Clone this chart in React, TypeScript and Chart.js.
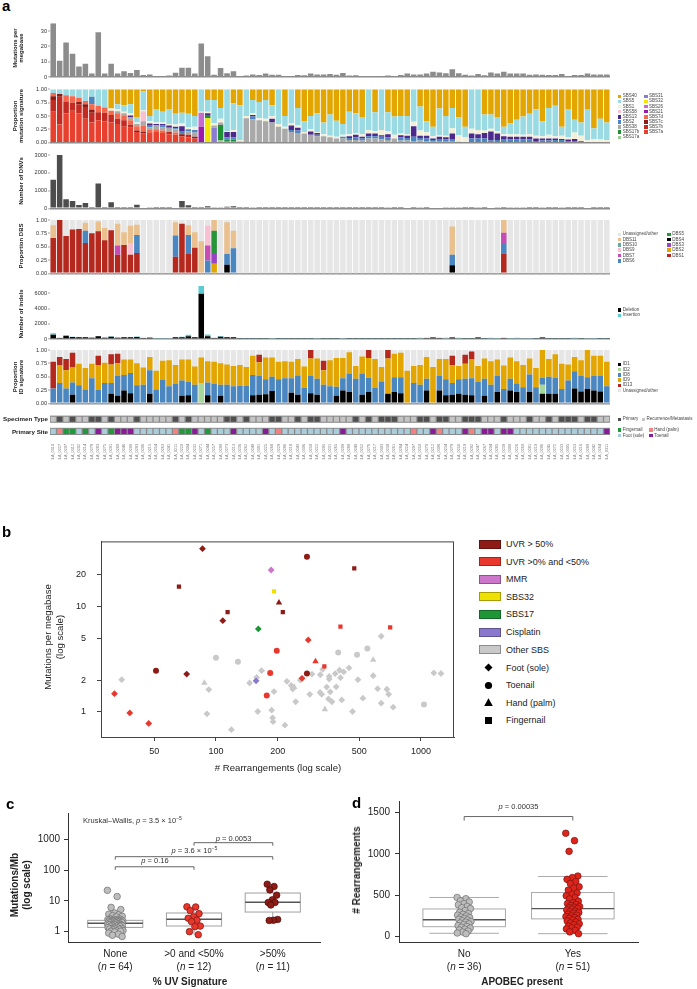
import React, { useEffect, useRef } from 'react';
import { Chart, registerables } from 'chart.js';

Chart.register(...registerables);

const FONT = '"Liberation Sans", Arial, Helvetica, sans-serif';
Chart.defaults.font.family = FONT;

// ======================= DATA =======================
const SAMPLE_IDS = [
  'MELA_0310','MELA_0227','MELA_0207','MELA_0312','MELA_0202','MELA_0214','MELA_0278','MELA_0283','MELA_0275','MELA_0291',
  'MELA_0280','MELA_0246','MELA_0290','MELA_0293','MELA_0206','MELA_0215','MELA_0254','MELA_0263','MELA_0241','MELA_0211',
  'MELA_0220','MELA_0304','MELA_0232','MELA_0271','MELA_0244','MELA_0257','MELA_0299','MELA_0273','MELA_0213','MELA_0236',
  'MELA_0262','MELA_0249','MELA_0301','MELA_0225','MELA_0268','MELA_0229','MELA_0286','MELA_0218','MELA_0243','MELA_0306',
  'MELA_0258','MELA_0222','MELA_0295','MELA_0231','MELA_0265','MELA_0209','MELA_0288','MELA_0240','MELA_0252','MELA_0276',
  'MELA_0217','MELA_0303','MELA_0238','MELA_0261','MELA_0284','MELA_0224','MELA_0297','MELA_0250','MELA_0270','MELA_0212',
  'MELA_0308','MELA_0234','MELA_0279','MELA_0256','MELA_0219','MELA_0292','MELA_0247','MELA_0267','MELA_0204','MELA_0285',
  'MELA_0239','MELA_0300','MELA_0226','MELA_0260','MELA_0281','MELA_0210','MELA_0296','MELA_0245','MELA_0272','MELA_0233',
  'MELA_0305','MELA_0253','MELA_0216','MELA_0289','MELA_0242','MELA_0264','MELA_0311',
];

const MUT_PER_MB = [
  35, 10.6, 22.5, 15.1, 6.9, 8.6, 2.2, 29.2, 2.2, 8.6,
  2.2, 3.7, 2.6, 4.5, 1.3, 1.7, 0.6, 0.6, 0.9, 2.8,
  6.0, 6.0, 2.2, 21.8, 13.6, 1.5, 5.8, 2.4, 3.7, 0.4,
  0.9, 1.7, 1.3, 2.2, 1.5, 1.5, 0.7, 0.7, 1.3, 1.1,
  2.2, 1.7, 1.7, 2.0, 1.5, 2.6, 0.9, 1.1, 0.6, 0.6,
  0.6, 0.4, 0.9, 0.6, 1.3, 2.2, 1.7, 1.7, 2.2, 3.5,
  3.0, 2.4, 5.0, 2.4, 1.5, 0.9, 2.0, 1.1, 3.0, 2.2,
  3.5, 2.2, 2.2, 2.2, 1.5, 1.7, 1.5, 1.3, 1.3, 2.0,
  0.4, 1.3, 1.3, 2.2, 1.7, 1.7, 1.7,
];

// SBS signature proportions (sparse lists are [sampleIndex, value])
const SBS7A_AT = [[0,.58],[1,.34],[2,.55],[3,.60],[4,.55],[5,.45],[6,.38],[7,.42],[8,.40],[9,.38],[10,.35],[11,.30],[12,.28],[13,.20],[14,.17],[15,.18],[16,.20],[17,.18],[18,.16],[19,.15],[20,.12],[21,.10],[22,.08]];
const SBS7B_AT = [[0,.22],[1,.52],[2,.22],[3,.15],[4,.17],[5,.22],[6,.18],[7,.15],[8,.16],[9,.14],[10,.10],[11,.12],[12,.06],[18,.04],[21,.05]];
const SBS7C_AT = [[0,.07],[1,.05],[4,.04],[5,.05],[6,.06],[13,.03],[14,.03],[20,.04],[22,.03]];
const SBS7D_AT = [[0,.06],[2,.12],[3,.12],[4,.08],[5,.06],[6,.10],[7,.12],[8,.10],[9,.08],[10,.10],[11,.08],[12,.08],[13,.08],[14,.12],[15,.06],[16,.05],[17,.05],[19,.04]];
const SBS21_AT = [[23,.30]];
const SBS26_AT = [[23,.26]];
const SBS32_AT = [[24,.46]];
const SBS31_AT = [[25,.28]];
const SBS17A_AT = [[26,.04],[27,.02],[28,.02]];
const SBS17B_AT = [[24,.06],[26,.29],[27,.04],[28,.04],[29,.02]];
const SBS58_AT = [[14,.19]];
const SBS38 = [
  0,0,0,0,0,0,0,0,0,0,
  .04,.05,.06,.04,.08,.05,.08,.06,.08,.06,
  0,.06,.08,0,0,.04,.05,0,0,0,
  .46,.44,.42,.40,.38,.30,.26,.20,.18,.17,
  .15,.12,.12,.10,.08,.08,.05,.05,.04,.08,
  .08,.06,.05,.08,.04,.04,.03,.04,.03,.02,
  .02,.02,.02,.02,0,0,0,0,0,0,
  0,0,0,0,0,0,0,0,0,0,
  0,0,0,0,0,0,0,
];
const SBS2 = [
  0,0,0,0,0,0,.14,0,0,0,
  0,0,0,0,0,.04,0,.03,0,.02,
  .06,.04,.05,0,0,0,0,.04,.04,0,
  0,.05,0,0,0,0,0,.04,.05,0,
  0,.03,0,0,0,.03,.04,.05,.04,.04,
  .04,.05,.05,0,.06,.05,.08,.05,.05,.03,
  .05,.04,.05,0,0,.08,.08,.08,.04,.05,
  .07,.06,.06,.06,.06,.02,.04,.04,.05,.05,
  .03,.03,.03,0,0,0,0,
];
const SBS13 = [
  0,0,0,0,0,0,0,0,0,0,
  0,0,.03,0,0,.03,.02,.03,.04,.03,
  .09,0,0,0,.03,0,0,.10,.10,0,
  0,.03,0,0,.07,0,0,.08,.05,0,
  .06,.03,0,0,0,0,.03,.05,.03,.05,
  .05,.03,.06,0,.04,.04,.20,.04,.05,.03,
  .04,.04,.10,0,0,.09,.08,.10,.17,.12,
  .05,.05,.05,.05,.05,.06,.04,.04,.03,.02,
  .03,.04,0,0,0,0,0,
];
const SBS1 = [
  0,0,0,0,0,0,0,0,0,.04,
  .03,.03,.04,.03,.02,.04,.03,.03,.03,.04,
  .05,.04,.06,.02,.03,.05,.07,.02,.04,.03,
  .04,.03,.04,.05,.05,.05,.04,.04,.04,.03,
  .04,.02,.04,.03,.03,.04,.04,.03,.05,.07,
  .05,.10,.06,.07,.03,.03,.08,.10,.07,.04,
  .03,.03,.10,.12,.10,.09,.08,.05,.05,.05,
  .04,.05,.05,.04,.05,.05,.04,.07,.04,.06,
  .04,.12,.10,.05,.07,.07,.05,
];
const SBS5 = [
  .07,.09,.11,.13,.16,.22,.14,.31,.34,0,
  .10,.12,.17,.10,.35,.10,.25,.20,.28,.20,
  .20,.25,.20,.42,.22,.43,.20,.78,.50,.65,
  .50,.25,.30,.35,.20,.65,.20,.64,.33,.20,
  .25,.35,.22,.40,.30,.20,.42,.37,.32,.76,
  .35,.76,.35,.34,.33,.34,.61,.45,.20,.18,
  .50,.37,.38,.33,.20,.74,.76,.30,.27,.26,
  .14,.20,.27,.34,.38,.49,.28,.50,.57,.17,
  .53,.24,.25,.58,.20,.38,.33,
];
const SBS40 = [
  0,0,0,0,0,0,0,0,0,.36,
  .28,.30,.28,.52,.04,.50,.37,.42,.37,.46,
  .44,.46,.50,0,.20,.20,.35,0,.26,.30,
  0,.20,.24,.20,.30,0,.50,0,.35,.60,
  .50,.45,.62,.47,.59,.65,.42,.45,.52,0,
  .43,0,.43,.51,.50,.50,0,.32,.60,.70,
  .36,.50,.35,.53,.70,0,0,.47,.47,.52,
  .70,.64,.57,.51,.46,.38,.60,.35,.31,.70,
  .37,.57,.62,.37,.73,.55,.62,
];

const DNV_COUNT = [
  1600, 3000, 506, 410, 190, 300, 75, 1390, 75, 340,
  75, 75, 75, 200, 40, 30, 15, 15, 15, 50,
  410, 170, 75, 75, 110, 60, 60, 90, 120, 20,
  15, 25, 20, 15, 20, 10, 10, 15, 20, 10,
  20, 15, 15, 20, 15, 20, 10, 15, 10, 10,
  10, 10, 30, 15, 20, 40, 20, 25, 20, 40,
  40, 25, 60, 25, 15, 10, 30, 20, 40, 30,
  70, 30, 25, 25, 20, 20, 25, 15, 15, 25,
  10, 20, 15, 40, 20, 20, 20,
];

// DBS signature proportions (sparse [sampleIndex, value])
const DBS1_AT = [[0,.66],[1,1.0],[2,.70],[3,.82],[4,.83],[5,.57],[6,.75],[7,.79],[8,.62],[9,.81],[10,.35],[11,.53],[12,.35],[13,.38],[19,.31],[20,.93],[21,.36],[22,.48],[70,.37]];
const DBS2_AT = [[25,.18]];
const DBS3_AT = [[25,.18]];
const DBS4_AT = [[27,.16],[62,.15]];
const DBS5_AT = [[25,.44]];
const DBS6_AT = [[5,.23],[13,.34],[19,.40],[21,.36],[24,.24],[27,.20],[28,.47],[62,.20],[70,.18]];
const DBS7_AT = [[10,.17],[24,.28],[70,.21]];
const DBS9_AT = [[12,.22],[24,.37]];
const DBS10_AT: number[][] = [];
const DBS11_AT = [[0,.24],[5,.15],[7,.18],[8,.23],[10,.41],[11,.24],[12,.32],[13,.19],[19,.25],[21,.18],[22,.29],[23,.60],[25,.20],[27,.60],[28,.33],[62,.53],[70,.24]];

const INDEL_DELETION = [
  570, 130, 395, 260, 220, 220, 175, 350, 175, 300,
  175, 220, 220, 260, 130, 175, 90, 90, 90, 220,
  220, 350, 220, 5950, 350, 130, 300, 220, 220, 60,
  60, 60, 60, 60, 90, 60, 60, 60, 60, 60,
  60, 90, 60, 60, 60, 90, 60, 60, 60, 50,
  50, 50, 60, 60, 60, 60, 60, 100, 130, 200,
  130, 100, 200, 100, 60, 60, 200, 60, 100, 90,
  130, 90, 100, 90, 90, 60, 200, 60, 60, 60,
  60, 100, 60, 90, 90, 60, 60,
];
const INDEL_INSERTION = [
  175, 45, 130, 40, 40, 30, 30, 60, 30, 60,
  30, 40, 40, 60, 30, 40, 30, 30, 30, 30,
  60, 200, 40, 1050, 250, 40, 90, 40, 40, 40,
  40, 40, 40, 40, 50, 40, 40, 40, 40, 40,
  40, 50, 40, 40, 40, 50, 40, 40, 40, 40,
  40, 40, 40, 40, 40, 40, 40, 50, 50, 60,
  50, 50, 60, 50, 40, 40, 60, 40, 50, 50,
  50, 50, 50, 50, 50, 40, 60, 40, 40, 40,
  40, 50, 40, 50, 50, 40, 40,
];

const ID1 = [
  0,0,0,.16,0,0,0,0,0,.18,
  .14,.24,.19,0,0,.18,0,0,0,0,
  .14,.15,0,0,.15,0,.14,0,0,0,
  0,.15,.16,.17,.23,0,0,.20,.16,0,
  .19,.16,0,0,.14,.24,.21,0,.16,.21,
  0,0,.18,.21,.19,0,0,0,.24,0,
  .24,.15,.16,.18,.16,.15,0,.14,0,.21,
  0,.24,.21,0,.21,0,.18,.18,.18,0,
  0,.28,.22,.27,.24,.22,0,
];
const ID2_AT = [[23,.38],[76,.17]];
const ID8 = [
  .28,.38,.28,.23,.34,.26,.47,.25,.38,.20,
  .37,.29,.38,.34,.35,.44,.26,.44,.32,.36,
  .29,.25,.35,0,.24,.36,.21,.35,.32,.33,
  .33,.38,.35,.28,.27,.45,.47,.27,.36,.29,
  .32,.30,.35,.32,.17,.23,.35,.46,.40,.27,
  .29,.41,0,.28,.30,0,.38,.35,.22,0,
  .27,.30,.22,.27,.30,.32,.40,.32,.35,.30,
  .27,.22,.16,.30,.33,.30,.13,.32,.30,.27,
  .43,.32,.29,.22,.27,.29,.32,
];
const ID9 = [
  0,.33,.34,.28,.40,.40,.27,.47,.38,.35,
  .24,.29,.25,.41,.32,.25,.35,.36,.49,.36,
  .39,.42,.34,.48,.40,.42,.40,.38,.38,.39,
  .35,.36,.26,.41,.36,.33,.32,.31,.31,.40,
  .33,.38,.27,.49,.54,.38,.40,.24,.32,.37,
  .54,.27,.66,.44,.46,.61,.32,.37,.41,.68,
  .32,.38,.34,.25,.28,.35,.30,.38,.44,.31,
  .44,.40,.42,.42,.30,.36,.52,.33,.44,.47,
  .30,.27,.30,.51,.38,.38,.46,
];
const ID13_AT = [[0,.50],[1,.16],[2,.21],[3,.28],[7,.17],[9,.19],[10,.18],[32,.14],[40,.16],[42,.18],[49,.17],[52,.16],[62,.17],[64,.17],[65,.15]];

// P = Primary, R = Recurrence/Metastasis
const SPECIMEN_TYPE = ('RPRPRRPPRP' + 'RRRPRRRRRP' + 'RPRRRRRPPR' + 'PRRRPPRRPR' + 'PPRRRRRPRP' +
  'RPPPRRRPPR' + 'PPRRPPPRRR' + 'PRRRPRRPRP' + 'PPRPPRRRR').split('');
// F = Foot (sole), N = Fingernail, H = Hand (palm), T = Toenail
const PRIMARY_SITE = ('FHNNFNFTFN' + 'TTTFFFFFFH' + 'NNTFNFFFTF' + 'FFFTFHFFFF' + 'FFFFFTFFFF' +
  'FFFFFFHFFT' + 'HFFFTHFTTF' + 'TTFFFFFFFF' + 'FFFFFFT').split('');

// Panel b: [rearrangements, mutations per Mb, site]
const B_UVR_HIGH = [[86,35,'F'],[278,29.4,'T'],[473,22.8,'N'],[66,15.3,'N'],[203,10.8,'H'],[114,8.8,'N'],[212,8.8,'N'],[108,7.3,'F'],[51,2.46,'T'],[72,2.28,'F'],[278,2.31,'T']];
const B_UVR_LOW = [[405,6.4,'N'],[708,6.3,'N'],[282,4.8,'F'],[198,3.8,'T'],[306,3.0,'H'],[338,2.7,'N'],[184,2.33,'T'],[263,2.08,'F'],[32,1.49,'F'],[177,1.43,'T'],[38,0.98,'F'],[47,0.78,'F']];
const B_MMR = [[186,22,'F']];
const B_SBS32 = [[192,13.8,'N']];
const B_SBS17 = [[161,6.1,'F']];
const B_CISPLATIN = [[157,1.97,'F']];
const B_OTHER = [
  [34.7,2.02,'F'],[87.8,1.88,'H'],[92.3,1.63,'F'],[90.4,0.96,'F'],[100,3.26,'T'],[128,2.98,'T'],[119,0.68,'F'],[146,1.88,'F'],[158,2.12,'F'],[167,2.46,'F'],
  [160,1.01,'F'],[187,1.04,'F'],[189,0.88,'F'],[190,0.81,'F'],[192,1.56,'F'],[217,0.75,'F'],[222,1.95,'F'],[233,1.78,'F'],[237,1.65,'F'],[241,1.72,'H'],
  [245,1.25,'F'],[258,2.0,'F'],[287,1.47,'F'],[294,2.28,'F'],[322,1.53,'F'],[328,1.47,'F'],[323,2.25,'F'],[332,2.53,'F'],[340,1.06,'H'],[347,1.72,'F'],
  [354,1.33,'F'],[357,2.17,'F'],[357,2.05,'F'],[361,1.55,'F'],[368,1.25,'F'],[382,2.30,'F'],[386,1.73,'F'],[395,3.65,'T'],[401,2.48,'F'],[405,2.11,'F'],
  [411,1.30,'F'],[420,2.39,'F'],[446,2.61,'F'],[464,1.01,'F'],[488,3.48,'T'],[493,2.02,'F'],[521,1.35,'F'],[548,3.98,'T'],[585,3.10,'H'],[585,2.20,'F'],
  [615,1.66,'F'],[640,5.20,'F'],[640,1.21,'F'],[682,1.64,'F'],[696,1.47,'F'],[732,1.11,'F'],[1035,1.18,'T'],[1156,2.34,'F'],[1253,2.31,'F'],
];
const B_XTICKS = [50, 100, 200, 500, 1000];
const B_YTICKS = [1, 2, 5, 10, 20];

// Panel c: mutations per Mb by % UV signature
const C_CATEGORIES = ['None', '>0 and <50%', '>50%'];
const C_COUNTS = [64, 12, 11];
const C_NONE = [22, 13.8, 6.1, 5.2, 4.0, 3.65, 3.48, 3.26, 3.1, 2.98, 2.61, 2.53, 2.48, 2.46, 2.39, 2.34, 2.31, 2.3, 2.28, 2.25,
  2.2, 2.17, 2.12, 2.11, 2.05, 2.02, 2.02, 2.0, 1.97, 1.95, 1.88, 1.88, 1.78, 1.73, 1.72, 1.72, 1.66, 1.65, 1.64, 1.63,
  1.56, 1.55, 1.53, 1.47, 1.47, 1.47, 1.35, 1.33, 1.3, 1.25, 1.25, 1.21, 1.2, 1.18, 1.11, 1.06, 1.04, 1.01, 1.01, 0.96,
  0.88, 0.81, 0.75, 0.68];
const C_UV_LOW = [6.4, 6.3, 4.8, 3.8, 3.0, 2.7, 2.33, 2.08, 1.49, 1.43, 0.98, 0.78];
const C_UV_HIGH = [35, 29.4, 22.8, 15.3, 10.8, 8.8, 8.8, 7.3, 2.46, 2.31, 2.28];
const C_Q1 = [1.35, 1.5, 4.3];
const C_MEDIAN = [1.85, 2.5, 9];
const C_Q3 = [2.3, 4.0, 18];
const C_LOW = [0.68, 0.78, 2.28];
const C_HIGH = [3.7, 6.4, 35];
const C_YTICKS = [1, 10, 100, 1000];

// Panel d: rearrangements by APOBEC presence
const D_CATEGORIES = ['No', 'Yes'];
const D_COUNTS = [36, 51];
const D_NO = [470, 455, 430, 415, 395, 380, 360, 345, 335, 310, 290, 275, 265, 255, 245, 232, 225, 215, 205, 196,
  188, 178, 170, 160, 150, 140, 128, 118, 108, 98, 85, 75, 62, 50, 38, 30];
const D_YES = [1250, 1160, 1030, 730, 712, 690, 665, 640, 600, 585, 560, 525, 505, 490, 470, 452, 425, 405, 395, 385,
  372, 360, 352, 345, 336, 328, 318, 305, 296, 288, 278, 268, 255, 246, 238, 226, 218, 205, 196, 185,
  172, 160, 150, 138, 122, 110, 100, 88, 70, 52, 30];
const D_Q1 = [115, 210];
const D_MEDIAN = [200, 335];
const D_Q3 = [330, 530];
const D_LOW = [35, 30];
const D_HIGH = [470, 725];
const D_YTICKS = [0, 500, 1000, 1500];

// ======================= STYLES =======================
const W = 697;
const A_L = 50;
const A_R = 610;
const N = SAMPLE_IDS.length;

const SIG_COLORS: Record<string, string> = {
  SBS40: '#E3A600', SBS5: '#9ADBE3', SBS1: '#F3EFD8', SBS58: '#F8C1D2', SBS13: '#4B2A8C', SBS2: '#4A86C0',
  SBS38: '#A9A9A9', SBS17b: '#1E8F33', SBS17a: '#9FCC8F', SBS31: '#8B7CD3', SBS32: '#F2E500', SBS26: '#C56ACF',
  SBS21: '#9C1BAA', SBS7d: '#F4694D', SBS7c: '#8C1B19', SBS7b: '#C22B22', SBS7a: '#E8402E',
};
const DBS_COLORS: Record<string, string> = {
  'Unassigned/other': '#E6E6E6', DBS11: '#E9C08E', DBS10: '#69A89E', DBS9: '#F8C1D2', DBS7: '#C74DB5', DBS6: '#4A86C0',
  DBS5: '#27963A', DBS4: '#000000', DBS3: '#9B42C6', DBS2: '#E3A600', DBS1: '#B5281E',
};
const ID_COLORS: Record<string, string> = {
  ID1: '#000000', ID2: '#A8D79A', ID8: '#4A86C0', ID9: '#E3A600', ID13: '#B5281E', 'Unassigned/other': '#E6E6E6',
};
const SPEC_COLORS: Record<string, string> = { P: '#4F4F4F', R: '#C4C4C4' };
const SITE_COLORS: Record<string, string> = { N: '#1E9A3A', F: '#A9CDDB', H: '#F48080', T: '#8B1A9B' };
const B_COLORS = {
  high: '#8E1B16', low: '#E8372C', mmr: '#CC77CC', sbs32: '#EEE000', sbs17: '#1E9638', cis: '#8A78CF', other: '#C9C9C9',
};
const SHAPE: Record<string, string> = { F: 'rectRot', T: 'circle', H: 'triangle', N: 'rect' };
const RADIUS: Record<string, number> = { F: 3.4, T: 3.0, H: 3.7, N: 3.0 };

// ======================= HELPERS =======================
const expand = (pairs: number[][]) => {
  const a = new Array(N).fill(0);
  pairs.forEach(([i, v]) => { a[i] = v; });
  return a;
};
const jitter = (i: number, spread: number) => (((i * 0.6180339887) % 1) - 0.5) * 2 * spread;

const common = {
  animation: false,
  responsive: false,
  maintainAspectRatio: false,
  devicePixelRatio: 1,
  events: [],
};
const noPlugins = { legend: { display: false }, tooltip: { enabled: false }, title: { display: false } };

function ChartBox({ x, y, w, h, cfg }: { x: number; y: number; w: number; h: number; cfg: () => any }) {
  const ref = useRef<HTMLCanvasElement | null>(null);
  useEffect(() => {
    if (!ref.current) return;
    const chart = new Chart(ref.current, cfg());
    return () => chart.destroy();
  }, []);
  return <canvas ref={ref} width={w} height={h} style={{ position: 'absolute', left: x, top: y, width: w, height: h }} />;
}

function Txt(props: { x: number; y: number; size: number; bold?: boolean; italic?: boolean; anchor?: 'l' | 'c' | 'r'; rot?: boolean; color?: string; children: React.ReactNode }) {
  const { x, y, size, bold, italic, anchor = 'c', rot, color = '#222', children } = props;
  const tx = anchor === 'l' ? '0%' : anchor === 'r' ? '-100%' : '-50%';
  return (
    <div style={{
      position: 'absolute', left: x, top: y, transform: `translate(${tx},-50%)${rot ? ' rotate(-90deg)' : ''}`,
      fontSize: size, fontWeight: bold ? 700 : 400, fontStyle: italic ? 'italic' : 'normal', color,
      whiteSpace: 'nowrap', lineHeight: 1, fontFamily: FONT,
    }}>{children}</div>
  );
}

function Sw({ x, y, w, h, color, border }: { x: number; y: number; w: number; h: number; color: string; border?: string }) {
  return <div style={{ position: 'absolute', left: x, top: y - h / 2, width: w, height: h, background: color, boxSizing: 'border-box', border: border ? `1px solid ${border}` : undefined }} />;
}

const Sup = ({ children }: { children: React.ReactNode }) => (
  <sup style={{ fontSize: '0.68em', verticalAlign: 'super', lineHeight: 0 }}>{children}</sup>
);

// plugins
const colBgPlugin = (color: string) => ({
  id: 'colbg',
  beforeDatasetsDraw(chart: any) {
    const { ctx, scales: { x, y } } = chart;
    const w = (x.getPixelForValue(1) - x.getPixelForValue(0)) * 0.86;
    const yt = y.getPixelForValue(1);
    const yb = y.getPixelForValue(0);
    ctx.save();
    ctx.fillStyle = color;
    for (let i = 0; i < N; i++) {
      const xc = x.getPixelForValue(i);
      ctx.fillRect(xc - w / 2, yt, w, yb - yt);
    }
    ctx.restore();
  },
});
const areaFillPlugin = (color: string) => ({
  id: 'areafill',
  beforeDatasetsDraw(chart: any) {
    const { ctx, chartArea: a } = chart;
    ctx.save();
    ctx.fillStyle = color;
    ctx.fillRect(a.left, a.top, a.right - a.left, a.bottom - a.top);
    ctx.restore();
  },
});
const boxFramePlugin = {
  id: 'boxframe',
  afterDraw(chart: any) {
    const { ctx, chartArea: a } = chart;
    ctx.save();
    ctx.strokeStyle = '#444';
    ctx.lineWidth = 1;
    ctx.strokeRect(a.left + 0.5, a.top + 0.5, a.right - a.left - 1, a.bottom - a.top);
    ctx.restore();
  },
};
const boxPlotPlugin = (q1: number[], med: number[], q3: number[], lo: number[], hi: number[], halfW: number, capW: number, stroke: string) => ({
  id: 'boxplot',
  beforeDatasetsDraw(chart: any) {
    const { ctx, scales: { x, y } } = chart;
    ctx.save();
    for (let i = 0; i < q1.length; i++) {
      const xc = x.getPixelForValue(i);
      const xl = x.getPixelForValue(i - halfW);
      const xr = x.getPixelForValue(i + halfW);
      const y1 = y.getPixelForValue(q1[i]);
      const y3 = y.getPixelForValue(q3[i]);
      const ym = y.getPixelForValue(med[i]);
      const yl = y.getPixelForValue(lo[i]);
      const yh = y.getPixelForValue(hi[i]);
      ctx.strokeStyle = stroke;
      ctx.lineWidth = 1;
      ctx.beginPath();
      ctx.moveTo(xc, y3); ctx.lineTo(xc, yh);
      ctx.moveTo(xc, y1); ctx.lineTo(xc, yl);
      if (capW > 0) {
        const cl = x.getPixelForValue(i - capW);
        const cr = x.getPixelForValue(i + capW);
        ctx.moveTo(cl, yh); ctx.lineTo(cr, yh);
        ctx.moveTo(cl, yl); ctx.lineTo(cr, yl);
      }
      ctx.stroke();
      ctx.fillStyle = '#ffffff';
      ctx.fillRect(xl, y3, xr - xl, y1 - y3);
      ctx.strokeRect(xl, y3, xr - xl, y1 - y3);
      ctx.strokeStyle = '#555';
      ctx.lineWidth = 1.4;
      ctx.beginPath();
      ctx.moveTo(xl, ym); ctx.lineTo(xr, ym);
      ctx.stroke();
    }
    ctx.restore();
  },
});
const bracketPlugin = (brs: { a: number; b: number; v: number }[], drop: number) => ({
  id: 'brackets',
  afterDatasetsDraw(chart: any) {
    const { ctx, scales: { x, y } } = chart;
    ctx.save();
    ctx.strokeStyle = '#555';
    ctx.lineWidth = 0.9;
    brs.forEach((br) => {
      const yp = y.getPixelForValue(br.v);
      const xa = x.getPixelForValue(br.a);
      const xb = x.getPixelForValue(br.b);
      ctx.beginPath();
      ctx.moveTo(xa, yp + drop); ctx.lineTo(xa, yp); ctx.lineTo(xb, yp); ctx.lineTo(xb, yp + drop);
      ctx.stroke();
    });
    ctx.restore();
  },
});

// ---------- panel a builder ----------
type AOpts = { colBg?: string; xLabels?: boolean; rowFrame?: string; stacked?: boolean };
function aYScale(min: number, max: number, ticks: number[], fmt: (v: number) => string, stacked: boolean) {
  return {
    type: 'linear', min, max, stacked, z: 1,
    afterFit: (s: any) => { s.width = A_L; },
    afterBuildTicks: (s: any) => { s.ticks = ticks.map((v) => ({ value: v })); },
    ticks: { font: { size: 5.6, family: FONT }, color: '#333', padding: 1, callback: (v: any) => fmt(Number(v)) },
    grid: {
      color: (c: any) => (c.tick && c.tick.value === 0 ? '#8c8c8c' : 'rgba(0,0,0,0)'),
      lineWidth: (c: any) => (c.tick && c.tick.value === 0 ? 1.6 : 0),
      drawTicks: true, tickLength: 2, tickColor: '#666', tickWidth: 0.6,
    },
    border: { display: false },
  };
}
function panelA(areaTop: number, areaBottom: number, datasets: () => any[], yScale: any, opts: AOpts = {}) {
  const top = Math.floor(areaTop) - 6;
  const labelH = opts.xLabels ? 25 : 0;
  const h = Math.ceil(areaBottom) + (opts.xLabels ? labelH + 1 : 6) - top;
  const padTop = areaTop - top;
  const padBottom = top + h - areaBottom - labelH;
  const yHidden = yScale.display === false;
  const plugins: any[] = [];
  if (opts.colBg) plugins.push(colBgPlugin(opts.colBg));
  if (opts.rowFrame) plugins.push(areaFillPlugin(opts.rowFrame));
  const cfg = () => ({
    type: 'bar',
    data: { labels: SAMPLE_IDS, datasets: datasets() },
    options: {
      ...common,
      layout: { padding: { left: yHidden ? A_L : 0, right: W - A_R, top: padTop, bottom: padBottom } },
      plugins: noPlugins,
      scales: {
        x: {
          type: 'category', stacked: !!opts.stacked, offset: true, display: !!opts.xLabels,
          grid: { display: false }, border: { display: false },
          ticks: { autoSkip: false, minRotation: 90, maxRotation: 90, font: { size: 3.8, family: FONT }, color: '#7a7a7a', padding: 1 },
          afterFit: (s: any) => { s.height = labelH; },
        },
        y: yScale,
      },
    },
    plugins,
  });
  return { top, h, cfg };
}
const bar = (label: string, data: number[], color: string, pct = 0.86) => ({
  label, data, backgroundColor: color, borderWidth: 0, barPercentage: pct, categoryPercentage: 1,
});

const SIG_STACK: [string, () => number[]][] = [
  ['SBS7a', () => expand(SBS7A_AT)], ['SBS7b', () => expand(SBS7B_AT)], ['SBS7c', () => expand(SBS7C_AT)], ['SBS7d', () => expand(SBS7D_AT)],
  ['SBS21', () => expand(SBS21_AT)], ['SBS26', () => expand(SBS26_AT)], ['SBS32', () => expand(SBS32_AT)], ['SBS31', () => expand(SBS31_AT)],
  ['SBS17a', () => expand(SBS17A_AT)], ['SBS17b', () => expand(SBS17B_AT)], ['SBS38', () => SBS38.slice()], ['SBS2', () => SBS2.slice()],
  ['SBS13', () => SBS13.slice()], ['SBS58', () => expand(SBS58_AT)], ['SBS1', () => SBS1.slice()], ['SBS5', () => SBS5.slice()], ['SBS40', () => SBS40.slice()],
];
const DBS_STACK: [string, number[][]][] = [
  ['DBS1', DBS1_AT], ['DBS2', DBS2_AT], ['DBS3', DBS3_AT], ['DBS4', DBS4_AT], ['DBS5', DBS5_AT], ['DBS6', DBS6_AT],
  ['DBS7', DBS7_AT], ['DBS9', DBS9_AT], ['DBS10', DBS10_AT], ['DBS11', DBS11_AT],
];

const fmtInt = (v: number) => String(v);
const fmt2 = (v: number) => v.toFixed(2);
const P01 = [0, 0.25, 0.5, 0.75, 1];

const A_MUT = panelA(23.3, 77, () => [bar('Mutations per megabase', MUT_PER_MB.slice(), '#8C8C8C')], aYScale(0, 35, [0, 10, 20, 30], fmtInt, false));
const A_SIG = panelA(89.3, 142.7, () => SIG_STACK.map(([k, f]) => bar(k, f(), SIG_COLORS[k])), aYScale(0, 1, P01, fmt2, true), { stacked: true });
const A_DNV = panelA(155, 208.3, () => [bar('DNVs', DNV_COUNT.slice(), '#4D4D4D')], aYScale(0, 3000, [0, 1000, 2000, 3000], fmtInt, false));
const A_DBS = panelA(220, 273.3, () => DBS_STACK.map(([k, p]) => bar(k, expand(p), DBS_COLORS[k])), aYScale(0, 1, P01, fmt2, true), { stacked: true, colBg: DBS_COLORS['Unassigned/other'] });
const A_IND = panelA(285.7, 339, () => [bar('Deletion', INDEL_DELETION.slice(), '#000000'), bar('Insertion', INDEL_INSERTION.slice(), '#5CCBD3')], aYScale(0, 7000, [0, 2000, 4000, 6000], fmtInt, true), { stacked: true });
const A_ID = panelA(350, 403.3, () => [
  bar('ID1', ID1.slice(), ID_COLORS.ID1), bar('ID2', expand(ID2_AT), ID_COLORS.ID2), bar('ID8', ID8.slice(), ID_COLORS.ID8),
  bar('ID9', ID9.slice(), ID_COLORS.ID9), bar('ID13', expand(ID13_AT), ID_COLORS.ID13),
], aYScale(0, 1, P01, fmt2, true), { stacked: true, colBg: ID_COLORS['Unassigned/other'] });
const rowY = { display: false, min: -0.2, max: 1.2 };
const A_SPEC = panelA(415.6, 422.8, () => [{
  label: 'Specimen Type', data: SPECIMEN_TYPE.map(() => 1), backgroundColor: SPECIMEN_TYPE.map((s) => SPEC_COLORS[s]),
  borderWidth: 0, barPercentage: 0.8, categoryPercentage: 1,
}], rowY, { rowFrame: '#8A8A8A' });
const A_SITE = panelA(427.8, 435, () => [{
  label: 'Primary Site', data: PRIMARY_SITE.map(() => 1), backgroundColor: PRIMARY_SITE.map((s) => SITE_COLORS[s]),
  borderWidth: 0, barPercentage: 0.8, categoryPercentage: 1,
}], rowY, { rowFrame: '#8A8A8A', xLabels: true });

// ---------- panel b ----------
const bSet = (label: string, pts: any[], color: string) => ({
  label,
  data: pts.map((p) => ({ x: p[0], y: p[1] })),
  backgroundColor: color, borderColor: color, borderWidth: 0,
  pointStyle: pts.map((p) => SHAPE[p[2]]),
  pointRadius: pts.map((p) => RADIUS[p[2]]),
});
const B_CFG = () => ({
  type: 'scatter',
  data: {
    datasets: [
      bSet('MMR', B_MMR, B_COLORS.mmr), bSet('SBS32', B_SBS32, B_COLORS.sbs32), bSet('SBS17', B_SBS17, B_COLORS.sbs17),
      bSet('Cisplatin', B_CISPLATIN, B_COLORS.cis), bSet('UVR > 50%', B_UVR_HIGH, B_COLORS.high),
      bSet('UVR >0% and <50%', B_UVR_LOW, B_COLORS.low), bSet('Other SBS', B_OTHER, B_COLORS.other),
    ],
  },
  options: {
    ...common,
    layout: { padding: { left: 0, right: 16, top: 11, bottom: 0 } },
    plugins: noPlugins,
    scales: {
      x: {
        type: 'logarithmic', min: 27.5, max: 1450,
        afterBuildTicks: (s: any) => { s.ticks = B_XTICKS.map((v) => ({ value: v })); },
        afterFit: (s: any) => { s.height = 43; },
        ticks: { autoSkip: false, maxRotation: 0, font: { size: 9 }, color: '#222', padding: 5, callback: (v: any) => String(v) },
        grid: { drawOnChartArea: false, drawTicks: true, tickLength: 4, color: '#444' },
        border: { display: true, color: '#444', width: 1 },
      },
      y: {
        type: 'logarithmic', min: 0.58, max: 41,
        afterBuildTicks: (s: any) => { s.ticks = B_YTICKS.map((v) => ({ value: v })); },
        afterFit: (s: any) => { s.width = 101; },
        ticks: { font: { size: 9 }, color: '#222', padding: 11, callback: (v: any) => String(v) },
        grid: { drawOnChartArea: false, drawTicks: true, tickLength: 4, color: '#444' },
        border: { display: true, color: '#444', width: 1 },
      },
    },
  },
  plugins: [boxFramePlugin],
});

// ---------- panel c ----------
const C_CFG = () => ({
  type: 'scatter',
  data: {
    datasets: [
      { label: '>50%', data: C_UV_HIGH.map((v, i) => ({ x: 2 + jitter(i, 0.07), y: v })), backgroundColor: '#8E1B16', borderColor: '#4A0B08', borderWidth: 0.7, pointRadius: 3.3 },
      { label: '>0 and <50%', data: C_UV_LOW.map((v, i) => ({ x: 1 + jitter(i, 0.09), y: v })), backgroundColor: '#E8372C', borderColor: '#7A1610', borderWidth: 0.7, pointRadius: 3.3 },
      { label: 'None', data: C_NONE.map((v, i) => ({ x: 0 + jitter(i, 0.1), y: v })), backgroundColor: '#BDBDBD', borderColor: '#6E6E6E', borderWidth: 0.7, pointRadius: 3.3 },
    ],
  },
  options: {
    ...common,
    layout: { padding: { left: 0, right: 20, top: 18, bottom: 0 } },
    plugins: noPlugins,
    scales: {
      x: {
        type: 'linear', min: -0.6, max: 2.6, ticks: { display: false }, grid: { display: false },
        border: { display: true, color: '#333', width: 1 }, afterFit: (s: any) => { s.height = 47; },
      },
      y: {
        type: 'logarithmic', min: 0.45, max: 7460,
        afterBuildTicks: (s: any) => { s.ticks = C_YTICKS.map((v) => ({ value: v })); },
        afterFit: (s: any) => { s.width = 68; },
        ticks: { font: { size: 10 }, color: '#222', padding: 4, callback: (v: any) => String(v) },
        grid: { drawOnChartArea: false, drawTicks: true, tickLength: 4, color: '#333' },
        border: { display: true, color: '#333', width: 1 },
      },
    },
  },
  plugins: [
    boxPlotPlugin(C_Q1, C_MEDIAN, C_Q3, C_LOW, C_HIGH, 0.35, 0, '#A0A0A0'),
    bracketPlugin([{ a: 0, b: 1, v: 130 }, { a: 0, b: 2, v: 278 }, { a: 1, b: 2, v: 798 }], 3),
  ],
});

// ---------- panel d ----------
const D_CFG = () => ({
  type: 'scatter',
  data: {
    datasets: [
      { label: 'Yes', data: D_YES.map((v, i) => ({ x: 1 + jitter(i, 0.065), y: v })), backgroundColor: '#E0241B', borderColor: '#7A1410', borderWidth: 0.7, pointRadius: 3.3 },
      { label: 'No', data: D_NO.map((v, i) => ({ x: 0 + jitter(i, 0.065), y: v })), backgroundColor: '#BDBDBD', borderColor: '#6E6E6E', borderWidth: 0.7, pointRadius: 3.3 },
    ],
  },
  options: {
    ...common,
    layout: { padding: { left: 0, right: 59, top: 7, bottom: 0 } },
    plugins: noPlugins,
    scales: {
      x: {
        type: 'linear', min: -0.6, max: 1.6, ticks: { display: false }, grid: { display: false },
        border: { display: true, color: '#333', width: 1 }, afterFit: (s: any) => { s.height = 47; },
      },
      y: {
        type: 'linear', min: -71, max: 1642,
        afterBuildTicks: (s: any) => { s.ticks = D_YTICKS.map((v) => ({ value: v })); },
        afterFit: (s: any) => { s.width = 59; },
        ticks: { font: { size: 10 }, color: '#222', padding: 5, callback: (v: any) => String(v) },
        grid: { drawOnChartArea: false, drawTicks: true, tickLength: 4, color: '#333' },
        border: { display: true, color: '#333', width: 1 },
      },
    },
  },
  plugins: [
    boxPlotPlugin(D_Q1, D_MEDIAN, D_Q3, D_LOW, D_HIGH, 0.38, 0.32, '#AAAAAA'),
    bracketPlugin([{ a: 0, b: 1, v: 1453 }], 4),
  ],
});

// ---------- legends ----------
const SIG_LEG_1 = ['SBS40', 'SBS5', 'SBS1', 'SBS58', 'SBS13', 'SBS2', 'SBS38', 'SBS17b', 'SBS17a'];
const SIG_LEG_2 = ['SBS31', 'SBS32', 'SBS26', 'SBS21', 'SBS7d', 'SBS7c', 'SBS7b', 'SBS7a'];
const DBS_LEG_1 = ['Unassigned/other', 'DBS11', 'DBS10', 'DBS9', 'DBS7', 'DBS6'];
const DBS_LEG_2 = ['DBS5', 'DBS4', 'DBS3', 'DBS2', 'DBS1'];
const ID_LEG = ['ID1', 'ID2', 'ID8', 'ID9', 'ID13', 'Unassigned/other'];

function SmallLegend({ x, y0, step, items, colors }: { x: number; y0: number; step: number; items: string[]; colors: Record<string, string> }) {
  return (
    <>
      {items.map((k, i) => (
        <React.Fragment key={k}>
          <Sw x={x} y={y0 + i * step} w={3.6} h={3.6} color={colors[k]} />
          <Txt x={x + 5} y={y0 + i * step} size={4.5} anchor="l" color="#444">{k}</Txt>
        </React.Fragment>
      ))}
    </>
  );
}

const B_LEGEND: [string, string][] = [
  ['UVR > 50%', B_COLORS.high], ['UVR >0% and <50%', B_COLORS.low], ['MMR', B_COLORS.mmr], ['SBS32', B_COLORS.sbs32],
  ['SBS17', B_COLORS.sbs17], ['Cisplatin', B_COLORS.cis], ['Other SBS', B_COLORS.other],
];
const B_SHAPES: [string, string][] = [['Foot (sole)', 'F'], ['Toenail', 'T'], ['Hand (palm)', 'H'], ['Fingernail', 'N']];

function ShapeIcon({ x, y, kind }: { x: number; y: number; kind: string }) {
  const s = 9;
  let el: React.ReactNode = null;
  if (kind === 'F') el = <polygon points="4.5,0.5 8.5,4.5 4.5,8.5 0.5,4.5" fill="#000" />;
  if (kind === 'T') el = <circle cx="4.5" cy="4.5" r="3.6" fill="#000" />;
  if (kind === 'H') el = <polygon points="4.5,0.3 8.8,8 0.2,8" fill="#000" />;
  if (kind === 'N') el = <rect x="1" y="1" width="7" height="7" fill="#000" />;
  return <svg width={s} height={s} style={{ position: 'absolute', left: x - s / 2, top: y - s / 2 }}>{el}</svg>;
}

export default function App() {
  const aCharts = [A_MUT, A_SIG, A_DNV, A_DBS, A_IND, A_ID, A_SPEC, A_SITE];
  return (
    <div style={{ position: 'absolute', left: 0, top: 0, width: W, height: 989, background: '#fff', overflow: 'hidden', fontFamily: FONT }}>
      {aCharts.map((c, i) => <ChartBox key={i} x={0} y={c.top} w={W} h={c.h} cfg={c.cfg} />)}
      <ChartBox x={0} y={525} w={470} h={255} cfg={B_CFG} />
      <ChartBox x={0} y={795} w={340} h={194} cfg={C_CFG} />
      <ChartBox x={340} y={790} w={357} h={199} cfg={D_CFG} />

      {/* panel letters */}
      <Txt x={2} y={5} size={15} bold anchor="l" color="#000">a</Txt>
      <Txt x={2} y={531} size={15} bold anchor="l" color="#000">b</Txt>
      <Txt x={6} y={803} size={15} bold anchor="l" color="#000">c</Txt>
      <Txt x={352} y={802} size={15} bold anchor="l" color="#000">d</Txt>

      {/* panel a y titles */}
      <Txt x={14.5} y={48} size={6} bold rot>Mutations per</Txt>
      <Txt x={21} y={48} size={6} bold rot>megabase</Txt>
      <Txt x={14.5} y={116} size={6} bold rot>Proportion</Txt>
      <Txt x={21} y={116} size={6} bold rot>mutation signature</Txt>
      <Txt x={21} y={181} size={6} bold rot>Number of DNVs</Txt>
      <Txt x={21} y={246} size={6} bold rot>Proportion DBS</Txt>
      <Txt x={21} y={314} size={6} bold rot>Number of indels</Txt>
      <Txt x={14.5} y={377} size={6} bold rot>Proportion</Txt>
      <Txt x={21} y={377} size={6} bold rot>ID signature</Txt>
      <Txt x={48} y={419} size={6.2} bold anchor="r">Specimen Type</Txt>
      <Txt x={48} y={431.5} size={6.2} bold anchor="r">Primary Site</Txt>

      {/* panel a legends */}
      <SmallLegend x={617.7} y0={96.3} step={5.13} items={SIG_LEG_1} colors={SIG_COLORS} />
      <SmallLegend x={644} y0={96.3} step={5.13} items={SIG_LEG_2} colors={SIG_COLORS} />
      <SmallLegend x={617.7} y0={234.3} step={5.33} items={DBS_LEG_1} colors={DBS_COLORS} />
      <SmallLegend x={667.3} y0={234.3} step={5.33} items={DBS_LEG_2} colors={DBS_COLORS} />
      <SmallLegend x={617.7} y0={310} step={5.3} items={['Deletion', 'Insertion']} colors={{ Deletion: '#000', Insertion: '#5CCBD3' }} />
      <SmallLegend x={617.7} y0={364.3} step={5.27} items={ID_LEG} colors={ID_COLORS} />
      <Sw x={617.7} y={419.3} w={3.6} h={3.6} color={SPEC_COLORS.P} />
      <Txt x={622.7} y={419.3} size={4.5} anchor="l" color="#444">Primary</Txt>
      <Sw x={641.5} y={419.3} w={3.6} h={3.6} color={SPEC_COLORS.R} />
      <Txt x={646.5} y={419.3} size={4.5} anchor="l" color="#444">Recurrence/Metastasis</Txt>
      <Sw x={617.7} y={430} w={3.6} h={3.6} color={SITE_COLORS.N} />
      <Txt x={622.7} y={430} size={4.5} anchor="l" color="#444">Fingernail</Txt>
      <Sw x={649.3} y={430} w={3.6} h={3.6} color={SITE_COLORS.H} />
      <Txt x={654.3} y={430} size={4.5} anchor="l" color="#444">Hand (palm)</Txt>
      <Sw x={617.7} y={435.6} w={3.6} h={3.6} color={SITE_COLORS.F} />
      <Txt x={622.7} y={435.6} size={4.5} anchor="l" color="#444">Foot (sole)</Txt>
      <Sw x={649.3} y={435.6} w={3.6} h={3.6} color={SITE_COLORS.T} />
      <Txt x={654.3} y={435.6} size={4.5} anchor="l" color="#444">Toenail</Txt>

      {/* panel b texts */}
      <Txt x={48} y={637} size={9.6} rot>Mutations per megabase</Txt>
      <Txt x={60} y={637} size={9.6} rot>(log scale)</Txt>
      <Txt x={278} y={768} size={9.6}># Rearrangements (log scale)</Txt>
      {B_LEGEND.map(([k, c], i) => (
        <React.Fragment key={k}>
          <Sw x={479} y={544 + i * 17.6} w={22} h={9} color={c} border="rgba(0,0,0,0.3)" />
          <Txt x={506} y={544 + i * 17.6} size={9} anchor="l">{k}</Txt>
        </React.Fragment>
      ))}
      {B_SHAPES.map(([k, s], i) => (
        <React.Fragment key={k}>
          <ShapeIcon x={488} y={667.5 + i * 17.6} kind={s} />
          <Txt x={506} y={667.5 + i * 17.6} size={9} anchor="l">{k}</Txt>
        </React.Fragment>
      ))}

      {/* panel c texts */}
      <Txt x={83} y={821} size={7.5} anchor="l" color="#333">Kruskal–Wallis, <i>p</i> = 3.5 × 10<Sup>−5</Sup></Txt>
      <Txt x={155} y={861} size={7.5} color="#333"><i>p</i> = 0.16</Txt>
      <Txt x={194.5} y={851} size={7.5} color="#333"><i>p</i> = 3.6 × 10<Sup>−5</Sup></Txt>
      <Txt x={233.5} y={838.5} size={7.5} color="#333"><i>p</i> = 0.0053</Txt>
      <Txt x={15} y={885} size={10} bold rot>Mutations/Mb</Txt>
      <Txt x={27} y={885} size={10} bold rot>(log scale)</Txt>
      {C_CATEGORIES.map((c, i) => (
        <React.Fragment key={c}>
          <Txt x={68 + ((i + 0.6) / 3.2) * 252} y={953.5} size={10}>{c}</Txt>
          <Txt x={68 + ((i + 0.6) / 3.2) * 252} y={967} size={10}>(<i>n</i> = {C_COUNTS[i]})</Txt>
        </React.Fragment>
      ))}
      <Txt x={190} y={982} size={10} bold>% UV Signature</Txt>

      {/* panel d texts */}
      <Txt x={518.5} y={806.5} size={7.5} color="#333"><i>p</i> = 0.00035</Txt>
      <Txt x={357} y={870} size={10} bold rot># Rearrangements</Txt>
      {D_CATEGORIES.map((c, i) => (
        <React.Fragment key={c}>
          <Txt x={399 + ((i + 0.6) / 2.2) * 239} y={953.5} size={10}>{c}</Txt>
          <Txt x={399 + ((i + 0.6) / 2.2) * 239} y={967} size={10}>(<i>n</i> = {D_COUNTS[i]})</Txt>
        </React.Fragment>
      ))}
      <Txt x={522} y={982} size={10} bold>APOBEC present</Txt>
    </div>
  );
}
